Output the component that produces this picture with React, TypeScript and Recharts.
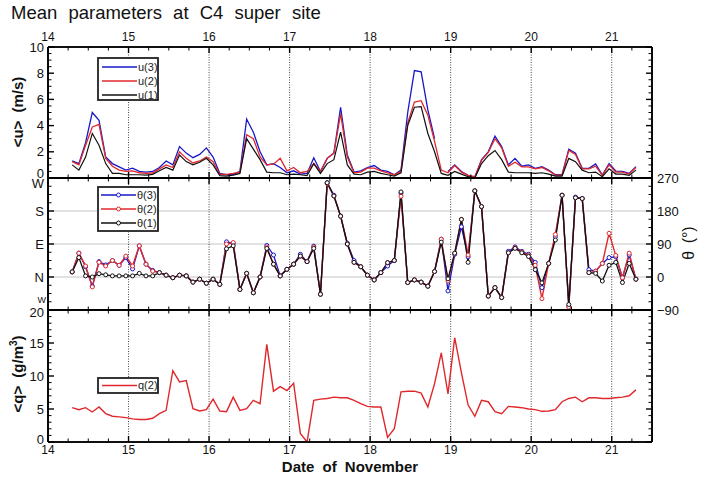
import { Line, LineChart, ReferenceLine, XAxis, YAxis } from "recharts";

// Samples every 2 h, starting 14 Nov ~07:00 (day-of-month as decimal).
const T0 = 14.3;
const STEP_DAYS = 2 / 24;

// <u> mean wind speed (m/s) at three heights
const U3: (number | null)[] = [
  1.3, 1.1, 2.7, 5.0, 4.4, 1.6, 1.1, 0.85, 0.6, 0.75,
  0.5, 0.45, 0.5, 0.8, 1.3, 1.0, 2.4, 1.9, 1.55, 1.8,
  2.3, 1.6, 0.35, 0.25, 0.28, 0.5, 4.5, 3.5, 2.0, 1.0,
  1.1, 0.8, 0.4, 0.55, 0.3, 0.35, 1.55, 0.5, 1.5, 1.9,
  5.4, 1.75, 0.45, 0.55, 0.8, 0.95, 0.6, 0.5, 0.25, 0.6,
  5.0, 8.2, 8.1, 5.2, 3.0, null, 0.5, 1.0, 0.5, 0.2,
  0.05, 1.4, 2.0, 3.2, 2.4, 1.0, 1.5, 0.9, 1.0, 0.74,
  0.87, 0.6, 0.25, 0.25, 2.2, 1.9, 0.74, 0.74, 1.07, 0.23,
  1.1, 0.53, 0.5, 0.35, 0.87,
];
const U2 = [
  1.25, 1.0, 2.5, 3.9, 4.1, 1.5, 0.9, 0.6, 0.5, 0.55,
  0.4, 0.35, 0.38, 0.7, 1.0, 0.8, 2.0, 1.5, 1.15, 1.3,
  1.6, 1.25, 0.28, 0.28, 0.35, 0.45, 3.3, 3.0, 1.6, 1.0,
  1.05, 1.5, 0.55, 0.8, 0.4, 0.5, 1.1, 0.5, 1.5, 1.9,
  4.9, 1.6, 0.4, 0.45, 0.75, 0.75, 0.55, 0.4, 0.25, 0.5,
  4.2, 5.8, 5.9, 4.8, 2.8, 0.6, 0.4, 0.95, 0.45, 0.2,
  0.1, 1.35, 1.95, 3.0, 2.3, 0.9, 1.2, 0.85, 0.85, 0.7,
  0.8, 0.55, 0.22, 0.22, 2.1, 1.8, 0.7, 0.7, 0.9, 0.2,
  1.0, 0.45, 0.45, 0.3, 0.8,
];
const U1 = [
  1.0, 0.6, 1.6, 3.4, 2.5, 1.1, 0.35, 0.35, 0.25, 0.25,
  0.25, 0.22, 0.28, 0.55, 0.8, 0.6, 1.75, 1.25, 1.0, 1.2,
  1.5, 1.0, 0.18, 0.15, 0.22, 0.35, 3.0, 2.2, 1.4, 0.45,
  0.4, 0.4, 0.25, 0.3, 0.25, 0.18, 1.1, 0.35, 1.1, 1.4,
  3.5, 1.0, 0.3, 0.25, 0.45, 0.5, 0.35, 0.25, 0.15, 0.4,
  4.0, 5.4, 5.45, 3.4, 2.0, 0.35, 0.2, 0.5, 0.3, 0.1,
  0.0, 1.1, 1.7, 2.1, 1.4, 0.45, 0.4, 0.4, 0.4, 0.35,
  0.4, 0.3, 0.15, 0.15, 1.5, 1.25, 0.6, 0.4, 0.45, 0.1,
  0.7, 0.3, 0.3, 0.2, 0.6,
];

// θ wind direction (deg)
const TH3 = [
  14, 65, 28, -25, 42, 33, 45, 32, 53, 22,
  85, 35, 18, 12, 5, -2, 5, 3, -14, -6,
  -17, -6, -20, 96, 92, -34, 10, -43, 0, 86,
  60, 3, 21, 35, 62, 42, 84, -47, 257, 223,
  166, 92, 45, 28, 5, -8, 12, 30, 45, 228,
  -15, -8, -14, -25, 15, 103, -38, 62, 137, 55,
  235, 192, -52, -29, -56, 70, 82, 70, 62, 40,
  -29, 37, 110, 223, -80, 218, 214, 20, 16, 37,
  53, 55, -2, 60, -6,
];
const TH2 = [
  14, 65, 30, -27, 40, 30, 45, 32, 57, 30,
  85, 35, 16, 12, 5, -2, 5, 3, -14, -6,
  -17, -6, -20, 90, 94, -34, 10, -43, 0, 82,
  35, 3, 21, 35, 57, 42, 82, -47, 255, 221,
  166, 90, 40, 28, 5, -8, 12, 39, 45, 220,
  -15, -8, -14, -25, 15, 103, -11, 65, 157, 60,
  235, 192, -52, -29, -56, 66, 80, 68, 59, 32,
  -59, 37, 116, 223, -82, 216, 214, 12, 16, 37,
  119, 59, -2, 65, -6,
];
const TH1 = [
  14, 53, 3, 0, 9, 6, 3, 3, 3, 3,
  10, 3, 3, 12, 5, -2, 5, 3, -14, -6,
  -17, -6, -20, 77, 85, -34, 10, -43, 0, 78,
  35, 3, 21, 35, 57, 42, 78, -47, 257, 221,
  166, 90, 40, 28, 5, -8, 12, 39, 45, 232,
  -15, -8, -14, -25, 15, 95, -5, 65, 157, 40,
  235, 192, -52, -29, -56, 66, 78, 66, 56, 20,
  -16, 37, 101, 223, -75, 216, 214, 12, 10, -11,
  32, 40, -15, 37, -6,
];

// <q> humidity (g/m3)
const Q2 = [
  5.2, 4.9, 5.2, 4.55, 5.3, 4.3, 3.9, 3.8, 3.7, 3.5,
  3.4, 3.4, 3.6, 4.3, 4.8, 10.8, 9.1, 9.3, 5.06, 4.7,
  4.9, 6.5, 4.7, 4.6, 6.8, 4.8, 5.06, 6.3, 5.8, 14.8,
  7.7, 8.4, 7.8, 8.9, 1.3, 0.0, 6.3, 6.5, 6.6, 6.8,
  6.7, 6.7, 6.3, 5.8, 5.4, 5.3, 5.3, 0.7, 2.0, 7.6,
  7.7, 7.7, 7.4, 5.3, 8.85, 13.5, 7.3, 15.8, 10.5, 5.6,
  3.9, 6.3, 6.1, 4.6, 4.3, 5.4, 5.3, 5.2, 5.0, 4.9,
  4.65, 4.7, 4.9, 6.1, 6.6, 6.8, 6.1, 6.7, 6.7, 6.6,
  6.6, 6.7, 6.8, 7.0, 7.9,
];

const X_TICKS = [
  14, 14.25, 14.5, 14.75, 15, 15.25, 15.5, 15.75, 16, 16.25, 16.5, 16.75,
  17, 17.25, 17.5, 17.75, 18, 18.25, 18.5, 18.75, 19, 19.25, 19.5, 19.75,
  20, 20.25, 20.5, 20.75, 21, 21.25, 21.5,
];
const DAY_LINES = [15, 16, 17, 18, 19, 20, 21];
const U_TICKS = [0, 0.5, 1, 1.5, 2, 2.5, 3, 3.5, 4, 4.5, 5, 5.5, 6, 6.5, 7, 7.5, 8, 8.5, 9, 9.5, 10];
const TH_TICKS = [-90, -67.5, -45, -22.5, 0, 22.5, 45, 67.5, 90, 112.5, 135, 157.5, 180, 202.5, 225, 247.5, 270];
const Q_TICKS = [0, 1, 2, 3, 4, 5, 6, 7, 8, 9, 10, 11, 12, 13, 14, 15, 16, 17, 18, 19, 20];
const COMPASS: Record<number, string> = { 270: "W", 180: "S", 90: "E", 0: "N", [-90]: "W" };

const TIMES = U1.map((_, i) => +(T0 + i * STEP_DAYS).toFixed(4));
const U_ROWS = TIMES.map((t, i) => ({ t, u1: U1[i], u2: U2[i], u3: U3[i] }));
const TH_ROWS = TIMES.map((t, i) => ({ t, th1: TH1[i], th2: TH2[i], th3: TH3[i] }));
const Q_ROWS = TIMES.map((t, i) => ({ t, q2: Q2[i] }));

const W = 705;
const H = 479;
const XH = 20; // height reserved for each x axis
const FONT = '"Liberation Sans", Arial, Helvetica, sans-serif';
const BLUE = "#1818c8";
const RED = "#e0282c";
const BLACK = "#111";
const AXIS = { stroke: "#000", strokeWidth: 1.6 };

type TickProps = { x?: number | string; y?: number | string; payload?: { value: number } };

function xTick(side: "top" | "bottom", labels: boolean) {
  return (p: TickProps) => {
    const x = Number(p.x ?? 0);
    const y = Number(p.y ?? 0);
    const v = Number(p.payload?.value ?? 0);
    const major = Number.isInteger(v);
    const dir = side === "top" ? 1 : -1;
    return (
      <g>
        <line x1={x} x2={x} y1={y} y2={y + dir * (major ? 6 : 3.5)} stroke="#000" strokeWidth={major ? 1.4 : 1} />
        {labels && major && (
          <text x={x} y={side === "top" ? y - 6 : y + 12} textAnchor="middle" fontSize={12} fontFamily={FONT} fill="#111">
            {v}
          </text>
        )}
      </g>
    );
  };
}

function yTick(
  side: "left" | "right",
  isMajor: (v: number) => boolean,
  label?: (v: number) => string,
  nudge: (v: number) => number = () => 0,
) {
  return (p: TickProps) => {
    const x = Number(p.x ?? 0);
    const y = Number(p.y ?? 0);
    const v = Number(p.payload?.value ?? 0);
    const major = isMajor(v);
    const dir = side === "left" ? 1 : -1;
    const text = major && label ? label(v) : "";
    return (
      <g>
        <line x1={x} x2={x + dir * (major ? 6 : 3.5)} y1={y} y2={y} stroke="#000" strokeWidth={major ? 1.4 : 1} />
        {text && (
          <text
            x={side === "left" ? x - 4 : x + 5}
            y={y + nudge(v)}
            dy="0.36em"
            textAnchor={side === "left" ? "end" : "start"}
            fontSize={13}
            fontFamily={FONT}
            fill="#111"
          >
            {text}
          </text>
        )}
      </g>
    );
  };
}

function frame(
  domain: [number, number],
  ticks: number[],
  isMajor: (v: number) => boolean,
  leftLabel: ((v: number) => string) | undefined,
  rightLabel: ((v: number) => string) | undefined,
  topLabels: boolean,
  bottomLabels: boolean,
  nudge?: (v: number) => number,
) {
  const common = { type: "number" as const, interval: 0 as const, tickLine: false, tickSize: 0, tickMargin: 0, axisLine: AXIS, stroke: "#000", allowDataOverflow: true };
  return [
    <XAxis key="xb" xAxisId="b" dataKey="t" orientation="bottom" height={XH} domain={[14, 21.5]} ticks={X_TICKS} tick={xTick("bottom", bottomLabels)} {...common} />,
    <XAxis key="xt" xAxisId="t" dataKey="t" orientation="top" height={XH} domain={[14, 21.5]} ticks={X_TICKS} tick={xTick("top", topLabels)} {...common} />,
    <YAxis key="yl" yAxisId="l" orientation="left" width={48} domain={domain} ticks={ticks} tick={yTick("left", isMajor, leftLabel, nudge)} {...common} />,
    <YAxis key="yr" yAxisId="r" orientation="right" width={53} domain={domain} ticks={ticks} tick={yTick("right", isMajor, rightLabel)} {...common} />,
    // plot frame, drawn on the shared scales so it always sits on the data box
    <ReferenceLine key="fl" xAxisId="b" yAxisId="l" x={14} stroke="#000" strokeWidth={1.6} />,
    <ReferenceLine key="fr" xAxisId="b" yAxisId="l" x={21.5} stroke="#000" strokeWidth={1.6} />,
    <ReferenceLine key="ft" xAxisId="b" yAxisId="l" y={domain[1]} stroke="#000" strokeWidth={1.6} />,
    <ReferenceLine key="fb" xAxisId="b" yAxisId="l" y={domain[0]} stroke="#000" strokeWidth={1.6} />,
    ...DAY_LINES.map((d) => (
      <ReferenceLine key={`d${d}`} xAxisId="b" yAxisId="l" x={d} stroke="#333" strokeDasharray="1 1.5" strokeWidth={0.9} />
    )),
  ];
}

const abs = { position: "absolute" as const, left: 0, top: 0 };

// margins so that the data box of each panel lands on [top, bottom] in page pixels
const panelMargin = (top: number, bottom: number) => ({ top: top - XH, bottom: H - bottom - XH, left: 0, right: 0 });

export default function App() {
  return (
    <div style={{ position: "relative", width: W, height: H, background: "#fff", overflow: "hidden", fontFamily: FONT }}>
      <style>{"body{margin:0}"}</style>

      {/* wind speed */}
      <div style={abs}>
        <LineChart width={W} height={H} data={U_ROWS} margin={panelMargin(47, 178)}>
          {frame([0, 10], U_TICKS, (v) => v % 2 === 0, (v) => String(v), undefined, true, false, (v) => (v === 0 ? -5 : 0))}
          <Line xAxisId="b" yAxisId="l" dataKey="u3" stroke={BLUE} strokeWidth={1.3} dot={false} isAnimationActive={false} />
          <Line xAxisId="b" yAxisId="l" dataKey="u2" stroke={RED} strokeWidth={1.3} dot={false} isAnimationActive={false} />
          <Line xAxisId="b" yAxisId="l" dataKey="u1" stroke={BLACK} strokeWidth={1.2} dot={false} isAnimationActive={false} />
        </LineChart>
      </div>

      {/* wind direction */}
      <div style={abs}>
        <LineChart width={W} height={H} data={TH_ROWS} margin={panelMargin(178, 310)}>
          {[0, 90, 180].map((v) => (
            <ReferenceLine key={`g${v}`} xAxisId="b" yAxisId="l" y={v} stroke="#c4c4c4" strokeWidth={1} />
          ))}
          {frame(
            [-90, 270],
            TH_TICKS,
            (v) => v % 90 === 0,
            (v) => (v === -90 ? "" : COMPASS[v]),
            (v) => (v < 0 ? `\u2212${-v}` : String(v)),
            false,
            false,
            (v) => (v === 270 ? 5 : 0),
          )}
          <Line xAxisId="b" yAxisId="l" dataKey="th3" stroke={BLUE} strokeWidth={1.3} dot={{ r: 2, fill: "#fff", stroke: BLUE, strokeWidth: 1 }} isAnimationActive={false} />
          <Line xAxisId="b" yAxisId="l" dataKey="th2" stroke={RED} strokeWidth={1.4} dot={{ r: 2, fill: "#fff", stroke: RED, strokeWidth: 1 }} isAnimationActive={false} />
          <Line xAxisId="b" yAxisId="l" dataKey="th1" stroke={BLACK} strokeWidth={1.3} dot={{ r: 2, fill: "#fff", stroke: BLACK, strokeWidth: 1 }} isAnimationActive={false} />
        </LineChart>
      </div>

      {/* humidity */}
      <div style={abs}>
        <LineChart width={W} height={H} data={Q_ROWS} margin={panelMargin(310, 442)}>
          {frame([0, 20], Q_TICKS, (v) => v % 5 === 0, (v) => String(v), undefined, false, true, (v) => (v === 20 ? 2 : v === 0 ? -3 : 0))}
          <Line xAxisId="b" yAxisId="l" dataKey="q2" stroke={RED} strokeWidth={1.4} dot={false} isAnimationActive={false} />
        </LineChart>
      </div>

      {/* titles and legends */}
      <svg style={{ ...abs, pointerEvents: "none" }} width={W} height={H} fontFamily={FONT}>
        <text x={11} y={19} fontSize={18.5} wordSpacing={6} fill="#111">
          Mean parameters at C4 super site
        </text>
        <text x={46} y={303} fontSize={9} textAnchor="end" fill="#111">
          W
        </text>

        <text transform="translate(23 112) rotate(-90)" textAnchor="middle" fontSize={15} fontWeight="bold" wordSpacing={4} fill="#111">
          {"<u> (m/s)"}
        </text>
        <text transform="translate(23 374) rotate(-90)" textAnchor="middle" fontSize={15} fontWeight="bold" wordSpacing={4} fill="#111">
          {"<q> (g/m"}
          <tspan dy={-6} fontSize={10}>3</tspan>
          <tspan dy={6}>)</tspan>
        </text>
        <text transform="translate(694 243) rotate(-90)" textAnchor="middle" fontSize={16} wordSpacing={3} fill="#111">
          θ (°)
        </text>
        <text x={350} y={472} textAnchor="middle" fontSize={15} fontWeight="bold" wordSpacing={4} fill="#111">
          Date of November
        </text>

        <g fontSize={11} fill="#222">
          <rect x={98} y={58} width={60} height={42} fill="#fff" stroke="#222" strokeWidth={1.8} />
          {[
            { y: 67, c: BLUE, t: "u(3)" },
            { y: 81, c: RED, t: "u(2)" },
            { y: 95, c: BLACK, t: "u(1)" },
          ].map((r) => (
            <g key={r.t}>
              <line x1={102} x2={137} y1={r.y} y2={r.y} stroke={r.c} strokeWidth={1.3} />
              <text x={138} y={r.y} dy="0.36em">{r.t}</text>
            </g>
          ))}

          <rect x={98} y={187} width={60} height={44} fill="#fff" stroke="#222" strokeWidth={1.8} />
          {[
            { y: 195, c: BLUE, t: "θ(3)" },
            { y: 209, c: RED, t: "θ(2)" },
            { y: 223, c: BLACK, t: "θ(1)" },
          ].map((r) => (
            <g key={r.t}>
              <line x1={101} x2={136} y1={r.y} y2={r.y} stroke={r.c} strokeWidth={1.3} />
              <circle cx={118.5} cy={r.y} r={2} fill="#fff" stroke={r.c} strokeWidth={1} />
              <text x={137} y={r.y} dy="0.36em">{r.t}</text>
            </g>
          ))}

          <rect x={98} y={378} width={60} height={15} fill="#fff" stroke="#222" strokeWidth={1.8} />
          <line x1={102} x2={137} y1={385.5} y2={385.5} stroke={RED} strokeWidth={1.3} />
          <text x={138} y={385.5} dy="0.36em">q(2)</text>
        </g>
      </svg>
    </div>
  );
}
